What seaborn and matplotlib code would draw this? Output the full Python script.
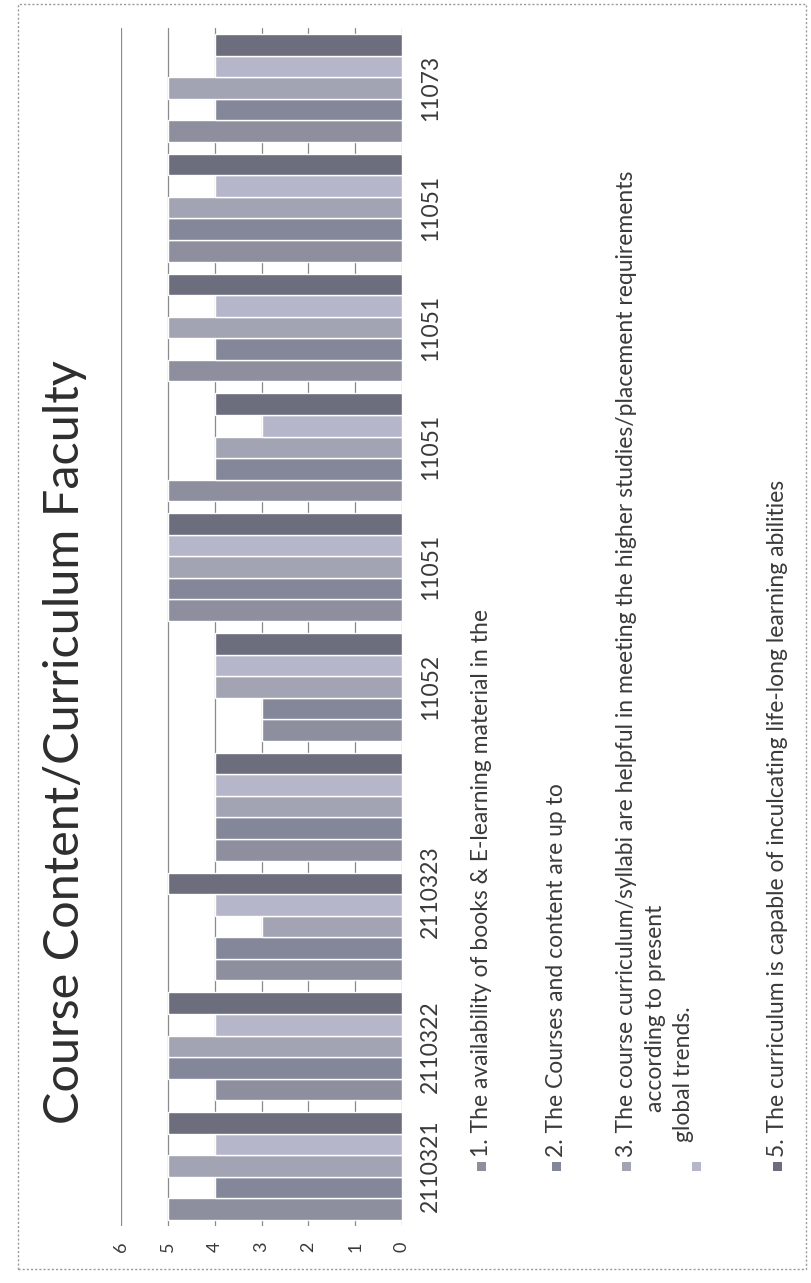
import matplotlib
matplotlib.use("Agg")
import matplotlib.pyplot as plt
import matplotlib.transforms as mtransforms
import seaborn as sns
import pandas as pd
from matplotlib.patches import Rectangle

# Course codes along the category axis (one group per course, bottom to top)
courses = ["2110321", "2110322", "2110323", "", "11052",
           "11051", "11051", "11051", "11051", "11073"]

# Faculty ratings per question
q1 = [5, 4, 4, 4, 3, 5, 5, 5, 5, 5]
q2 = [4, 5, 4, 4, 3, 5, 4, 4, 5, 4]
q3 = [5, 5, 3, 4, 4, 5, 4, 5, 5, 5]
q4 = [4, 4, 4, 4, 4, 5, 3, 4, 4, 4]
q5 = [5, 5, 5, 4, 4, 5, 4, 5, 5, 4]

questions = [
    "1. The availability of books & E-learning material in the",
    "2. The Courses and content are up to",
    "3. The course curriculum/syllabi are helpful in meeting the higher studies/placement requirements",
    "",
    "5. The curriculum is capable of inculcating life-long learning abilities",
]
q3_extra_lines = ["according to present", "global trends."]
score_ticks = [0, 1, 2, 3, 4, 5, 6]
title = "Course Content/Curriculum Faculty"

series_keys = ["q1", "q2", "q3", "q4", "q5"]
series_vals = [q1, q2, q3, q4, q5]
colors = ["#8d8e9e", "#84869a", "#a2a3b3", "#b5b6ca", "#6c6d7d"]

slots = [f"c{i}" for i in range(len(courses))]
rows = []
for key, vals in zip(series_keys, series_vals):
    for slot, v in zip(slots, vals):
        rows.append({"slot": slot, "item": key, "score": v})
df = pd.DataFrame(rows)

sns.set_theme(style="white")
plt.rcParams["font.family"] = ["Lato", "DejaVu Sans"]
text_color = "#3a3a3a"

W, H = 812, 1283
fig = plt.figure(figsize=(W / 100, H / 100), dpi=100)
fig.patch.set_facecolor("white")


def fx(px):
    return px / W


def fy(py):
    return 1 - py / H


ax = fig.add_axes([fx(121), fy(1226), fx(402) - fx(121), fy(28) - fy(1226)])

sns.barplot(data=df, y="slot", x="score", hue="item", order=slots,
            hue_order=series_keys, palette=colors, orient="h", width=0.9,
            dodge=True, edgecolor="white", linewidth=1.0, legend=False,
            saturation=1, ax=ax)

ax.set_ylim(-0.5, len(courses) - 0.5)
ax.set_xlim(6, 0)
ax.set_xticks(score_ticks)
ax.set_xticklabels([str(t) for t in score_ticks], rotation=90,
                   fontsize=13, color=text_color)
ax.grid(axis="x", color="#8a8a8a", linewidth=0.9)
ax.set_axisbelow(True)
ax.tick_params(axis="x", length=0, pad=11)

ax.yaxis.tick_right()
ax.set_yticks(range(len(courses)))
ax.set_yticklabels(courses, rotation=90, fontsize=16.5, color=text_color,
                   va="center", ha="left")
ax.tick_params(axis="y", length=0, pad=13)
# the third course label sits a little toward the next group
lbl = ax.get_yticklabels()[2]
lbl.set_transform(lbl.get_transform() +
                  mtransforms.ScaledTranslation(0, 0.35, fig.dpi_scale_trans))
ax.set_xlabel("")
ax.set_ylabel("")
for s in ax.spines.values():
    s.set_visible(False)

# Title, rotated with the chart
fig.text(fx(65), fy(742), title, rotation=90, ha="center", va="center",
         fontsize=35, color="#2e2e2e")

# Legend entries drawn as rotated text columns
marker = 9
legend_fs = 16.5
legend_cols = [
    (482, questions[0], colors[0]),
    (557, questions[1], colors[1]),
    (627, questions[2], colors[2]),
    (697, questions[3], colors[3]),
    (778, questions[4], colors[4]),
]
mark_y = 1166
for x, label, col in legend_cols:
    fig.patches.append(Rectangle((fx(x - marker / 2), fy(mark_y + marker / 2)),
                                 marker / W, marker / H, transform=fig.transFigure,
                                 facecolor=col, edgecolor="none"))
    if label:
        fig.text(fx(x), fy(mark_y - 9), label, rotation=90,
                 rotation_mode="anchor", ha="left", va="center",
                 fontsize=legend_fs, color=text_color)

fig.text(fx(656), fy(1112), q3_extra_lines[0], rotation=90,
         rotation_mode="anchor", ha="left", va="center", fontsize=legend_fs,
         color=text_color)
fig.text(fx(684), fy(1142), q3_extra_lines[1], rotation=90,
         rotation_mode="anchor", ha="left", va="center", fontsize=legend_fs,
         color=text_color)

# Dotted chart-area border
fig.patches.append(Rectangle((fx(18), fy(1269)), fx(806) - fx(18), fy(4) - fy(1269),
                             transform=fig.transFigure, facecolor="none",
                             edgecolor="#9a9a9a", linewidth=1.0, linestyle=(0, (1.5, 1.5))))

fig.savefig("out.png", dpi=100, facecolor="white")
